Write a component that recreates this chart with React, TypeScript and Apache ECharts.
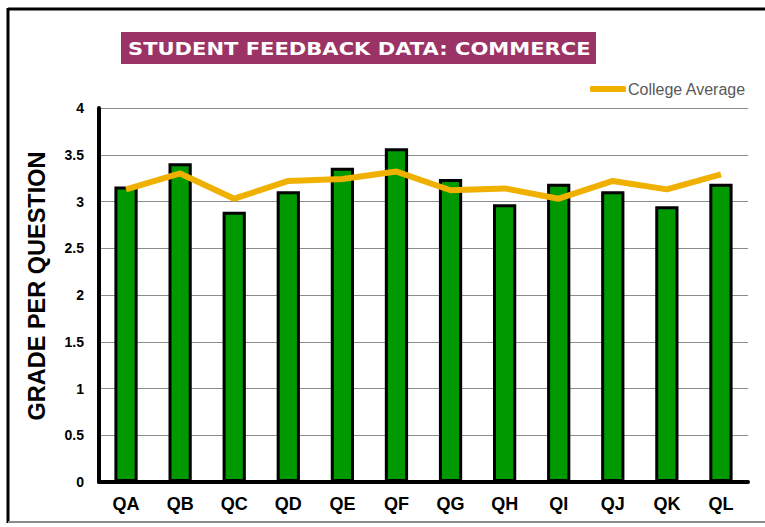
import React, { useEffect, useRef } from "react";
import * as echarts from "echarts";

const categories = ["QA", "QB", "QC", "QD", "QE", "QF", "QG", "QH", "QI", "QJ", "QK", "QL"];
const commerceValues = [3.16, 3.41, 2.89, 3.11, 3.36, 3.57, 3.24, 2.97, 3.19, 3.11, 2.95, 3.19];
const collegeAverage = [3.13, 3.3, 3.03, 3.22, 3.24, 3.32, 3.12, 3.14, 3.03, 3.22, 3.13, 3.29];
const yTicks = [0, 0.5, 1, 1.5, 2, 2.5, 3, 3.5, 4];
const titleText = "STUDENT FEEDBACK DATA: COMMERCE";
const yAxisTitle = "GRADE PER QUESTION";

export default function App() {
  const ref = useRef<HTMLDivElement>(null);
  useEffect(() => {
    if (!ref.current) return;
    const chart = echarts.init(ref.current, null, { renderer: "svg" });
    chart.setOption({
      animation: false,
      backgroundColor: "#ffffff",
      legend: {
        data: ["College Average"],
        right: 14,
        top: 76,
        itemWidth: 36,
        itemHeight: 6,
        itemGap: 2,
        icon: "roundRect",
        textStyle: { color: "#595959", fontFamily: "Liberation Sans", fontSize: 16, padding: [0, 0, 0, -3] },
      },
      grid: { left: 99, right: 17, top: 108, bottom: 45 },
      xAxis: {
        type: "category",
        data: categories,
        axisLine: { lineStyle: { color: "#000", width: 4 } },
        axisTick: { show: false },
        axisLabel: {
          color: "#000",
          fontFamily: "Liberation Sans",
          fontWeight: "bold",
          fontSize: 18,
          margin: 13,
        },
      },
      yAxis: {
        type: "value",
        min: yTicks[0],
        max: yTicks[yTicks.length - 1],
        interval: 0.5,
        axisLine: { show: true, lineStyle: { color: "#000", width: 4 } },
        axisTick: { show: false },
        splitLine: { lineStyle: { color: "#8c8c8c", width: 1 } },
        axisLabel: {
          color: "#000",
          fontFamily: "Liberation Sans",
          fontWeight: "bold",
          fontSize: 14,
          margin: 15,
        },
      },
      series: [
        {
          name: "Commerce",
          type: "bar",
          data: commerceValues,
          barWidth: "43%",
          itemStyle: { color: "#009900", borderColor: "#000", borderWidth: 3 },
        },
        {
          name: "College Average",
          type: "line",
          data: collegeAverage,
          symbol: "none",
          lineStyle: { color: "#f0b000", width: 6 },
          itemStyle: { color: "#f0b000" },
        },
      ],
      graphic: [
        { type: "line", shape: { x1: 8, y1: 9, x2: 765, y2: 9 }, style: { stroke: "#000", lineWidth: 3 } },
        { type: "line", shape: { x1: 8, y1: 8, x2: 8, y2: 523 }, style: { stroke: "#000", lineWidth: 3 } },
        { type: "line", shape: { x1: 8, y1: 522, x2: 765, y2: 522 }, style: { stroke: "#8c8c8c", lineWidth: 2 } },
        { type: "rect", shape: { x: 121, y: 32, width: 475, height: 32 }, style: { fill: "#9b3366" } },
        {
          type: "text",
          x: 128,
          y: 48.5,
          scaleX: 1.15,
          style: {
            text: titleText,
            fill: "#ffffff",
            font: "bold 18.3px 'DejaVu Sans'",
            textAlign: "left",
            textVerticalAlign: "middle",
          },
        },
        {
          type: "text",
          x: 37,
          y: 286,
          rotation: Math.PI / 2,
          style: {
            text: yAxisTitle,
            fill: "#000",
            font: "bold 23.5px 'Liberation Sans'",
            textAlign: "center",
            textVerticalAlign: "middle",
          },
        },
      ],
    });
    return () => chart.dispose();
  }, []);
  return <div ref={ref} style={{ width: 765, height: 527, position: "absolute", left: 0, top: 0 }} />;
}
